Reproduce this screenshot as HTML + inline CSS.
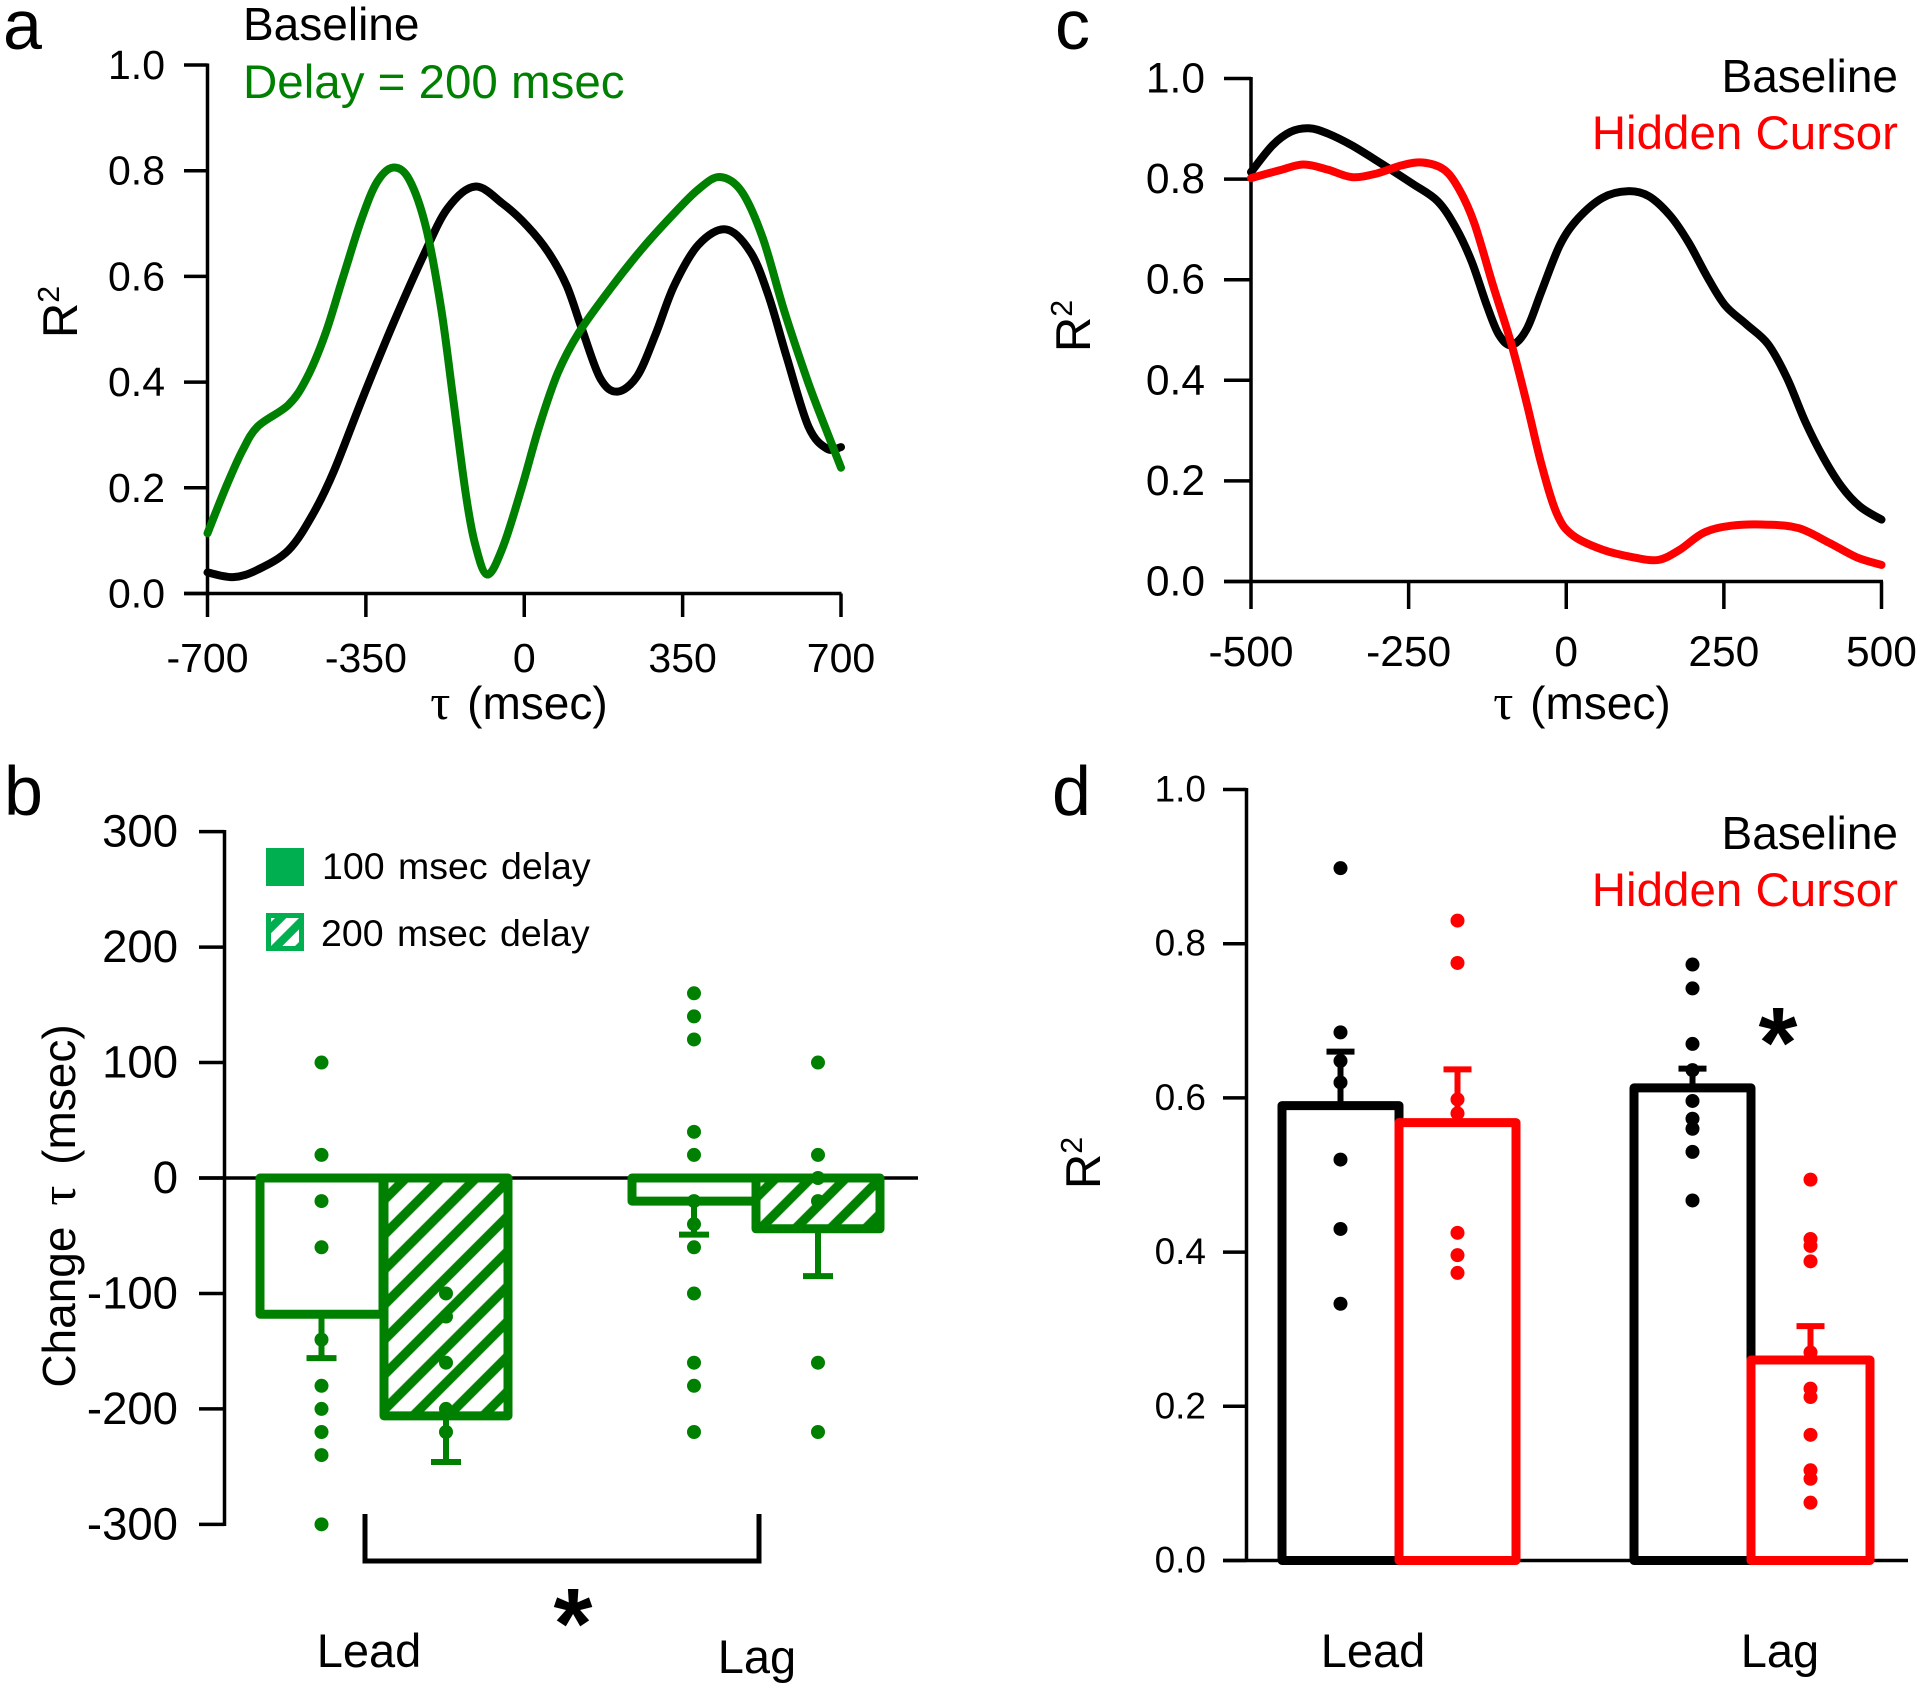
<!DOCTYPE html>
<html lang="en">
<head>
<meta charset="utf-8">
<title>Delay and hidden cursor tracking figure</title>
<style>
  html, body { margin: 0; padding: 0; background: #fff; }
  svg { display: block; font-family: "Liberation Sans", Arial, sans-serif; }
</style>
</head>
<body>
<svg id="figure" xmlns="http://www.w3.org/2000/svg" width="1920" height="1690" viewBox="0 0 1920 1690">
  <defs>
    <pattern id="hatch" patternUnits="userSpaceOnUse" width="24.75" height="24.75" patternTransform="translate(389 1230) rotate(-45)">
      <rect x="0" y="0" width="24.75" height="4.7" fill="#008000"></rect>
      <rect x="0" y="20.05" width="24.75" height="4.7" fill="#008000"></rect>
    </pattern>
    <pattern id="hatch-lag" patternUnits="userSpaceOnUse" width="24.75" height="24.75" patternTransform="translate(766 1223) rotate(-45)">
      <rect x="0" y="0" width="24.75" height="4.7" fill="#008000"></rect>
      <rect x="0" y="20.05" width="24.75" height="4.7" fill="#008000"></rect>
    </pattern>
    <pattern id="hatch-legend" patternUnits="userSpaceOnUse" width="17" height="17" patternTransform="translate(266 951) rotate(-45)">
      <rect x="0" y="0" width="17" height="8" fill="#00b050"></rect>
    </pattern>
  </defs>
  <rect x="0" y="0" width="1920" height="1690" fill="#fff"></rect>
</svg>
<script>
// Panel a data
const aYTicks = [0, 0.2, 0.4, 0.6, 0.8, 1.0];
const aXTicks = [-700, -350, 0, 350, 700];
const aBaselineTau = [-700,-643,-589,-521,-467,-420,-359,-291,-224,-170,-109,-48,6,53,94,128,168,206,250,290,331,385,446,500,540,581,628,669,700];
const aBaselineR2 = [.04,.031,.045,.082,.15,.233,.366,.508,.637,.728,.77,.738,.696,.646,.582,.499,.407,.382,.412,.49,.582,.66,.689,.646,.563,.444,.316,.274,.277];
const aDelayTau = [-700,-657,-623,-589,-521,-481,-440,-400,-359,-325,-289,-254,-217,-183,-156,-129,-109,-82,-48,-7,33,74,121,195,263,331,385,432,480,527,574,628,669,700];
const aDelayR2 = [.114,.206,.27,.316,.357,.407,.49,.6,.71,.779,.806,.783,.692,.536,.361,.187,.095,.036,.086,.196,.316,.417,.494,.582,.655,.719,.765,.788,.761,.673,.536,.398,.306,.238];

// Panel c data
const cYTicks = [0, 0.2, 0.4, 0.6, 0.8, 1.0];
const cXTicks = [-500, -250, 0, 250, 500];
const cBaselineTau = [-500,-466,-437,-408,-379,-340,-291,-243,-204,-175,-150,-126,-107,-87,-63,-39,-10,19,58,97,131,165,194,223,252,286,320,350,379,408,437,466,500];
const cBaselineR2 = [.814,.867,.894,.901,.891,.867,.829,.79,.756,.703,.636,.549,.491,.47,.501,.578,.669,.722,.763,.776,.766,.727,.674,.607,.549,.511,.472,.405,.318,.246,.188,.149,.123];
const cHiddenTau = [-500,-456,-417,-379,-340,-301,-262,-228,-194,-170,-146,-116,-87,-63,-39,-15,10,58,107,146,180,218,262,320,369,417,461,500];
const cHiddenR2 = [.802,.817,.829,.819,.804,.811,.827,.833,.819,.78,.713,.588,.472,.356,.231,.135,.092,.063,.048,.043,.063,.097,.111,.113,.106,.077,.048,.033];

// Panel b data
const bYTicks = [300, 200, 100, 0, -100, -200, -300];
const bBarNames = ['lead-100', 'lead-200', 'lag-100', 'lag-200'];
const bMeans = [-118, -206, -20, -44];
const bErrors = [-156, -246, -49, -85];
const bDotsLead100 = [100, 20, -20, -60, -140, -180, -200, -220, -240, -300];
const bDotsLead200 = [-100, -120, -160, -200, -220];
const bDotsLag100 = [160, 140, 120, 40, 20, -20, -40, -60, -100, -160, -180, -220];
const bDotsLag200 = [100, 20, 0, -20, -160, -220];

// Panel d data
const dYTicks = [0, 0.2, 0.4, 0.6, 0.8, 1.0];
const dBarNames = ['lead-baseline', 'lead-hidden', 'lag-baseline', 'lag-hidden'];
const dMeans = [.59, .568, .613, .26];
const dErrors = [.66, .637, .638, .304];
const dDotsLeadBaseline = [.898, .685, .648, .62, .52, .43, .333];
const dDotsLeadHidden = [.83, .775, .598, .58, .425, .396, .373];
const dDotsLagBaseline = [.773, .742, .67, .636, .596, .573, .56, .53, .467];
const dDotsLagHidden = [.494, .417, .408, .388, .27, .223, .212, .163, .117, .106, .075];

const GREEN = '#008000';
const GREEN_DOT = '#008000';
const RED = '#ff0000';
const BLACK = '#000000';
const NS = 'http://www.w3.org/2000/svg';
const root = document.getElementById('figure');

// Axis functions
const ax = v => 207.5 + (v + 700) / 1400 * 633.5;
const ay = v => 593.5 - v * 528.5;
const cx = v => 1251 + (v + 500) / 1000 * 630.5;
const cy = v => 581.5 - v * 503;
const by = v => 1178 - v * 1.1545;
const bSlot = i => [260, 384, 632, 756][i];
const bWidth = i => [123, 124, 124, 124][i];
const dy = v => 1560.5 - v * 771;
const dSlot = i => [1282, 1399, 1634, 1751][i];
const dWidth = i => [117, 117, 117, 119][i];

function make(tag, name, interact, attrs, parent) {
  const el = document.createElementNS(NS, tag);
  
  
  for (const k in attrs) el.setAttribute(k, attrs[k]);
  (parent || root).appendChild(el);
  return el;
}
function group(name) {
  return make('g', name, 'false', {});
}
function line(name, x1, y1, x2, y2, color, w, parent) {
  return make('line', name, 'false', {x1, y1, x2, y2, stroke: color, 'stroke-width': w}, parent);
}
function text(name, str, x, y, size, anchor, color, parent, extra) {
  const t = make('text', name, 'false', Object.assign({x, y, 'font-size': size, 'text-anchor': anchor, fill: color}, extra || {}), parent);
  t.textContent = str;
  return t;
}
function fmt(v) {
  return v.toFixed(1);
}
function smoothPath(xs, ys, fx, fy) {
  const p = xs.map((v, i) => [fx(v), fy(ys[i])]);
  let d = 'M' + p[0][0].toFixed(1) + ' ' + p[0][1].toFixed(1);
  for (let i = 0; i < p.length - 1; i++) {
    const p0 = p[Math.max(0, i - 1)], p1 = p[i], p2 = p[i + 1], p3 = p[Math.min(p.length - 1, i + 2)];
    const c1x = p1[0] + (p2[0] - p0[0]) / 6, c1y = p1[1] + (p2[1] - p0[1]) / 6;
    const c2x = p2[0] - (p3[0] - p1[0]) / 6, c2y = p2[1] - (p3[1] - p1[1]) / 6;
    d += 'C' + c1x.toFixed(1) + ' ' + c1y.toFixed(1) + ' ' + c2x.toFixed(1) + ' ' + c2y.toFixed(1) + ' ' + p2[0].toFixed(1) + ' ' + p2[1].toFixed(1);
  }
  return d;
}
function curve(name, xs, ys, fx, fy, color, parent) {
  return make('path', name, 'false', {d: smoothPath(xs, ys, fx, fy), fill: 'none', stroke: color, 'stroke-width': 8, 'stroke-linejoin': 'round', 'stroke-linecap': 'round'}, parent);
}
function axisTitleR2(name, x, y, size, parent) {
  const t = make('text', name, 'false', {transform: 'translate(' + x + ' ' + y + ') rotate(-90)', 'font-size': size, 'text-anchor': 'middle', fill: BLACK}, parent);
  t.textContent = 'R';
  const s = make('tspan', name + '-superscript', 'false', {dy: -18, 'font-size': size * 0.62}, t);
  s.textContent = '2';
  return t;
}
function tauTitle(name, x, y, parent) {
  const t = make('text', name, 'false', {x, y, 'font-size': 46, 'text-anchor': 'middle', fill: BLACK, 'word-spacing': 4}, parent);
  const g = make('tspan', name + '-tau', 'false', {'font-family': '"Liberation Serif", serif', 'font-size': 50}, t);
  g.textContent = '\u03C4';
  const r = make('tspan', name + '-unit', 'false', {}, t);
  r.textContent = ' (msec)';
  return t;
}

// ===== Panel a =====
const pa = group('panel-a');
text('panel-a-label', 'a', 3, 49, 70, 'start', BLACK, pa);
line('panel-a-y-axis', 207.5, 63.5, 207.5, 595, BLACK, 3.5, pa);
line('panel-a-x-axis', 184, 593.5, 841.5, 593.5, BLACK, 3.5, pa);
aYTicks.forEach(v => {
  line('panel-a-y-tick', 184, ay(v), 207.5, ay(v), BLACK, 3.5, pa);
  text('panel-a-y-tick-label', fmt(v), 165, ay(v) + 14, 41, 'end', BLACK, pa);
});
aXTicks.forEach(v => {
  line('panel-a-x-tick', ax(v), 593.5, ax(v), 617, BLACK, 3.5, pa);
  text('panel-a-x-tick-label', String(v), ax(v), 672, 41, 'middle', BLACK, pa);
});
axisTitleR2('panel-a-y-title', 77, 312, 49, pa);
tauTitle('panel-a-x-title', 519, 719, pa);
curve('panel-a-baseline-curve', aBaselineTau, aBaselineR2, ax, ay, BLACK, pa);
curve('panel-a-delay-curve', aDelayTau, aDelayR2, ax, ay, GREEN, pa);
text('panel-a-legend-baseline', 'Baseline', 243, 40, 46, 'start', BLACK, pa);
text('panel-a-legend-delay', 'Delay = 200 msec', 243, 98, 47.5, 'start', GREEN, pa);

// ===== Panel c =====
const pc = group('panel-c');
text('panel-c-label', 'c', 1055, 49, 70, 'start', BLACK, pc);
line('panel-c-y-axis', 1251, 77, 1251, 583, BLACK, 3.5, pc);
line('panel-c-x-axis', 1224, 581.5, 1883, 581.5, BLACK, 3.5, pc);
cYTicks.forEach(v => {
  line('panel-c-y-tick', 1224, cy(v), 1251, cy(v), BLACK, 3.5, pc);
  text('panel-c-y-tick-label', fmt(v), 1205, cy(v) + 14, 42.5, 'end', BLACK, pc);
});
cXTicks.forEach(v => {
  line('panel-c-x-tick', cx(v), 581.5, cx(v), 609, BLACK, 3.5, pc);
  text('panel-c-x-tick-label', String(v), cx(v), 666, 42.5, 'middle', BLACK, pc);
});
axisTitleR2('panel-c-y-title', 1090, 326, 49, pc);
tauTitle('panel-c-x-title', 1582, 719, pc);
curve('panel-c-baseline-curve', cBaselineTau, cBaselineR2, cx, cy, BLACK, pc);
curve('panel-c-hidden-curve', cHiddenTau, cHiddenR2, cx, cy, RED, pc);
text('panel-c-legend-baseline', 'Baseline', 1898, 92, 46, 'end', BLACK, pc);
text('panel-c-legend-hidden', 'Hidden Cursor', 1898, 149, 47.5, 'end', RED, pc);

// ===== Panel b =====
const pb = group('panel-b');
text('panel-b-label', 'b', 4, 815, 70, 'start', BLACK, pb);
line('panel-b-y-axis', 224.5, 830, 224.5, 1526, BLACK, 3.5, pb);
bYTicks.forEach(v => {
  line('panel-b-y-tick', 199, by(v), 224.5, by(v), BLACK, 3.5, pb);
  text('panel-b-y-tick-label', String(v), 178, by(v) + 15, 45.5, 'end', BLACK, pb);
});
const bTitle = make('text', 'panel-b-y-title', 'false', {transform: 'translate(75 1206) rotate(-90)', 'font-size': 46, 'text-anchor': 'middle', fill: BLACK, 'word-spacing': 8}, pb);
const bTitleWord = make('tspan', 'panel-b-y-title-change', 'false', {}, bTitle);
bTitleWord.textContent = 'Change ';
const bTitleTau = make('tspan', 'panel-b-y-title-tau', 'false', {'font-family': '"Liberation Serif", serif', 'font-size': 50}, bTitle);
bTitleTau.textContent = '\u03C4';
const bTitleUnit = make('tspan', 'panel-b-y-title-unit', 'false', {}, bTitle);
bTitleUnit.textContent = ' (msec)';

const bDotSets = [bDotsLead100, bDotsLead200, bDotsLag100, bDotsLag200];
const bFills = ['none', 'url(#hatch)', 'none', 'url(#hatch-lag)'];
bMeans.forEach((m, i) => {
  const x0 = bSlot(i), w = bWidth(i), mid = x0 + w / 2, nm = bBarNames[i];
  const g = group('panel-b-bar-group-' + nm);
  bDotSets[i].forEach(v => {
    make('circle', 'panel-b-dot-' + nm, 'false', {cx: mid, cy: by(v), r: 7, fill: GREEN_DOT}, g);
  });
  line('panel-b-error-stem-' + nm, mid, by(m), mid, by(bErrors[i]), GREEN, 6, g);
  line('panel-b-error-cap-' + nm, mid - 15, by(bErrors[i]), mid + 15, by(bErrors[i]), GREEN, 6, g);
  make('rect', 'panel-b-bar-' + nm, 'false', {x: x0, y: by(0), width: w, height: by(m) - by(0), fill: bFills[i], stroke: GREEN, 'stroke-width': 9, 'stroke-linejoin': 'round'}, g);
});
line('panel-b-zero-line', 199, by(0), 918, by(0), BLACK, 3.5, pb);

make('rect', 'panel-b-legend-swatch-100', 'false', {x: 266, y: 848, width: 38, height: 38, fill: '#00b050'}, pb);
make('rect', 'panel-b-legend-swatch-200', 'false', {x: 268.5, y: 915.5, width: 33, height: 33, fill: 'url(#hatch-legend)', stroke: '#00b050', 'stroke-width': 5}, pb);
text('panel-b-legend-100', '100 msec delay', 322, 879, 37.5, 'start', BLACK, pb, {'word-spacing': 3});
text('panel-b-legend-200', '200 msec delay', 321, 946, 37.5, 'start', BLACK, pb, {'word-spacing': 3});

make('path', 'panel-b-significance-bracket', 'false', {d: 'M365 1514V1561H759V1514', fill: 'none', stroke: BLACK, 'stroke-width': 5}, pb);
text('panel-b-significance-star', '*', 573, 1658, 100, 'middle', BLACK, pb, {'font-weight': 'bold'});
text('panel-b-category-lead', 'Lead', 369, 1667, 47, 'middle', BLACK, pb);
text('panel-b-category-lag', 'Lag', 757, 1673, 47, 'middle', BLACK, pb);

// ===== Panel d =====
const pd = group('panel-d');
text('panel-d-label', 'd', 1052, 815, 70, 'start', BLACK, pd);
line('panel-d-y-axis', 1246.5, 788, 1246.5, 1562, BLACK, 3.5, pd);
dYTicks.forEach(v => {
  line('panel-d-y-tick', 1223, dy(v), 1246.5, dy(v), BLACK, 3.5, pd);
  text('panel-d-y-tick-label', fmt(v), 1206, dy(v) + 12, 37, 'end', BLACK, pd);
});
axisTitleR2('panel-d-y-title', 1100, 1163, 49, pd);
line('panel-d-zero-line', 1223, dy(0), 1908, dy(0), BLACK, 3.5, pd);

const dDotSets = [dDotsLeadBaseline, dDotsLeadHidden, dDotsLagBaseline, dDotsLagHidden];
dMeans.forEach((m, i) => {
  const x0 = dSlot(i), w = dWidth(i), mid = x0 + w / 2, nm = dBarNames[i];
  const color = i % 2 ? RED : BLACK;
  const g = group('panel-d-bar-group-' + nm);
  dDotSets[i].forEach(v => {
    make('circle', 'panel-d-dot-' + nm, 'false', {cx: mid, cy: dy(v), r: 7, fill: color}, g);
  });
  line('panel-d-error-stem-' + nm, mid, dy(m), mid, dy(dErrors[i]), color, 6, g);
  line('panel-d-error-cap-' + nm, mid - 14, dy(dErrors[i]), mid + 14, dy(dErrors[i]), color, 6, g);
  make('rect', 'panel-d-bar-' + nm, 'false', {x: x0, y: dy(m), width: w, height: dy(0) - dy(m), fill: 'none', stroke: color, 'stroke-width': 9, 'stroke-linejoin': 'round'}, g);
});
text('panel-d-significance-star', '*', 1778, 1077, 100, 'middle', BLACK, pd, {'font-weight': 'bold'});
text('panel-d-legend-baseline', 'Baseline', 1898, 849, 46, 'end', BLACK, pd);
text('panel-d-legend-hidden', 'Hidden Cursor', 1898, 906, 47.5, 'end', RED, pd);
text('panel-d-category-lead', 'Lead', 1373, 1667, 47, 'middle', BLACK, pd);
text('panel-d-category-lag', 'Lag', 1780, 1667, 47, 'middle', BLACK, pd);
</script>
</body>
</html>
